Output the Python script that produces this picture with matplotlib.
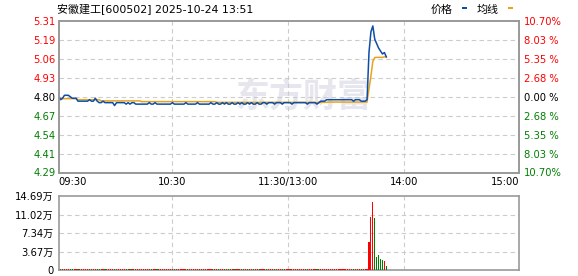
import matplotlib
matplotlib.use('Agg')
import matplotlib.pyplot as plt
from matplotlib.patches import Rectangle
import numpy as np

# ---------------- data ----------------
title_text = "安徽建工[600502] 2025-10-24 13:51"
prev_close = 4.80
max_pct = 10.70

price = [
    4.80, 4.78, 4.79, 4.81, 4.81, 4.81, 4.80, 4.79, 4.79, 4.79,
    4.77, 4.77, 4.77, 4.77, 4.77, 4.77, 4.78, 4.77, 4.77, 4.79,
    4.77, 4.76, 4.76, 4.77, 4.76, 4.76, 4.76, 4.76, 4.76, 4.74,
    4.76, 4.76, 4.76, 4.76, 4.76, 4.75, 4.76, 4.75, 4.76, 4.76,
    4.75, 4.75, 4.75, 4.75, 4.75, 4.75, 4.75, 4.76, 4.75, 4.75,
    4.76, 4.75, 4.75, 4.75, 4.75, 4.75, 4.75, 4.75, 4.75, 4.76,
    4.75, 4.75, 4.75, 4.75, 4.75, 4.75, 4.76, 4.75, 4.75, 4.75,
    4.75, 4.75, 4.76, 4.75, 4.75, 4.75, 4.75, 4.75, 4.75, 4.76,
    4.75, 4.75, 4.76, 4.75, 4.75, 4.76, 4.75, 4.76, 4.75, 4.75,
    4.76, 4.75, 4.75, 4.76, 4.75, 4.76, 4.75, 4.75, 4.76, 4.75,
    4.76, 4.75, 4.75, 4.76, 4.75, 4.75, 4.76, 4.76, 4.75, 4.76,
    4.76, 4.76, 4.75, 4.76, 4.76, 4.76, 4.75, 4.76, 4.76, 4.76,
    4.76, 4.75, 4.76, 4.76, 4.76, 4.76, 4.76, 4.76, 4.76, 4.75,
    4.76, 4.76, 4.76, 4.76, 4.75, 4.76, 4.77, 4.77, 4.77, 4.78,
    4.78, 4.78, 4.78, 4.78, 4.78, 4.78, 4.78, 4.78, 4.78, 4.78,
    4.78, 4.78, 4.78, 4.77, 4.78, 4.78, 4.78, 4.77, 4.77, 4.77,
    4.78, 5.10, 5.24, 5.28, 5.19, 5.16, 5.13, 5.11, 5.09, 5.10,
    5.07,
]

avg_price = [
    4.800, 4.787, 4.787, 4.787, 4.787, 4.787, 4.787, 4.787, 4.787, 4.787,
    4.780, 4.780, 4.780, 4.780, 4.780, 4.780, 4.780, 4.780, 4.780, 4.780,
    4.780, 4.780, 4.772, 4.772, 4.772, 4.772, 4.772, 4.772, 4.772, 4.772,
    4.772, 4.772, 4.772, 4.772, 4.772, 4.772, 4.772, 4.772, 4.772, 4.772,
    4.772, 4.772, 4.772, 4.767, 4.767, 4.767, 4.767, 4.767, 4.767, 4.767,
    4.767, 4.767, 4.767, 4.767, 4.767, 4.767, 4.767, 4.767, 4.767, 4.767,
    4.767, 4.767, 4.767, 4.767, 4.767, 4.767, 4.767, 4.767, 4.767, 4.767,
    4.767, 4.767, 4.767, 4.767, 4.767, 4.767, 4.767, 4.767, 4.767, 4.767,
    4.767, 4.767, 4.762, 4.762, 4.762, 4.762, 4.762, 4.762, 4.762, 4.762,
    4.762, 4.762, 4.762, 4.762, 4.762, 4.762, 4.762, 4.762, 4.762, 4.762,
    4.762, 4.762, 4.762, 4.762, 4.762, 4.762, 4.762, 4.762, 4.762, 4.762,
    4.762, 4.762, 4.762, 4.762, 4.762, 4.762, 4.762, 4.762, 4.762, 4.762,
    4.762, 4.762, 4.762, 4.762, 4.762, 4.762, 4.762, 4.762, 4.762, 4.762,
    4.762, 4.762, 4.762, 4.762, 4.762, 4.762, 4.762, 4.762, 4.762, 4.762,
    4.764, 4.764, 4.764, 4.764, 4.764, 4.764, 4.764, 4.764, 4.764, 4.764,
    4.764, 4.764, 4.764, 4.764, 4.764, 4.764, 4.764, 4.764, 4.764, 4.764,
    4.764, 4.850, 4.940, 5.040, 5.066, 5.067, 5.067, 5.067, 5.067, 5.070,
    5.072,
]

volume = [
    3200, 2600, 2100, 2400, 1900, 2200, 1800, 2300, 1700, 1900,
    2000, 1800, 1600, 1900, 1700, 2200, 1800, 1600, 2000, 1900,
    1700, 1800, 1600, 1700, 1900, 1500, 1800, 1600, 1700, 2100,
    1600, 1500, 1700, 1600, 1800, 1500, 1900, 1600, 1700, 1500,
    1800, 1600, 1500, 1700, 1600, 1500, 1800, 1700, 1600, 1500,
    1700, 1600, 1500, 1600, 1700, 1500, 1600, 1800, 1500, 1700,
    1600, 1500, 1700, 1600, 1500, 1600, 1800, 1500, 1600, 1700,
    1500, 1600, 1700, 1500, 1600, 1500, 1700, 1600, 1500, 1800,
    1600, 1700, 1500, 1600, 1700, 1500, 1800, 1600, 1500, 1700,
    1600, 1500, 1700, 1600, 1800, 1500, 1600, 1700, 1500, 1600,
    1700, 1500, 1600, 1800, 1500, 1600, 1700, 1500, 1600, 1700,
    1500, 1600, 1700, 1800, 1500, 1600, 1700, 1500, 1600, 1700,
    1900, 1600, 1500, 1700, 1600, 1500, 1700, 1600, 1500, 1800,
    1600, 1700, 1500, 1600, 1700, 1800, 1900, 2200, 1900, 2000,
    1800, 1700, 1600, 1800, 1700, 1600, 1700, 1800, 1600, 1700,
    1900, 1800, 1700, 1900, 2000, 1800, 1900, 2100, 2300, 2200,
    2500, 56000, 106000, 135000, 103000, 26000, 30000, 22000, 20000, 18500,
    8500,
]

n_slots = 240  # 09:31-11:30 and 13:01-15:00
time_tick_pos = [0, 59, 119, 179, 239]
time_tick_labels = ["09:30", "10:30", "11:30/13:00", "14:00", "15:00"]
price_labels = ["5.31", "5.19", "5.06", "4.93", "4.80", "4.67", "4.54", "4.41", "4.29"]
pct_labels = ["10.70%", "8.03 %", "5.35 %", "2.68 %", "0.00 %", "2.68 %", "5.35 %", "8.03 %", "10.70%"]
label_colors = ["#ff0000"] * 4 + ["#000000"] + ["#008000"] * 4
vol_max = 146900
vol_labels = ["0", "3.67万", "7.34万", "11.02万", "14.69万"]
legend_items = ["价格", "均线"]

# ---------------- style ----------------
W, H = 578, 276
DPI = 100
plt.rcParams['font.family'] = ['DejaVu Sans', 'Noto Sans CJK SC']
FS = 10 * 72 / DPI      # 10px
FS_T = 11 * 72 / DPI    # 11px
BLUE = '#0d4ea6'
ORANGE = '#e8a31c'
RED = '#ff0000'
GREEN = '#008000'
SPINE = '#999999'
GRID = '#cccccc'

fig = plt.figure(figsize=(W / DPI, H / DPI), dpi=DPI)
L, R = 58.7, 519.3
ax = fig.add_axes([L / W, 1 - 172.5 / H, (R - L) / W, (172.5 - 21) / H])
ax2 = fig.add_axes([L / W, 1 - 270 / H, (R - L) / W, (270 - 196) / H])

x = np.arange(len(price))
lo = prev_close * (1 - max_pct / 100)
hi = prev_close * (1 + max_pct / 100)
yt = np.linspace(hi, lo, 9)

# watermark
ax.text(0.53, 0.5, "东方财富", transform=ax.transAxes, ha='center', va='center',
        fontsize=34 * 72 / DPI, color='#e6e7ee', fontweight='bold',
        family=['Noto Sans CJK SC'], zorder=0)

ax.plot(x, avg_price, color=ORANGE, lw=1.1, zorder=3)
ax.plot(x, price, color=BLUE, lw=1.1, zorder=4)
ax.set_xlim(0, n_slots - 1)
ax.set_ylim(lo, hi)

dash = (0, (4, 3))
for v in yt[1:-1]:
    ax.axhline(v, color=GRID, lw=0.8, ls=dash, zorder=1)
for p in time_tick_pos[1:-1]:
    ax.axvline(p, color=GRID, lw=0.8, ls=dash, zorder=1)

ax.set_yticks(yt)
ax.set_yticklabels(price_labels, fontsize=FS)
for t, c in zip(ax.get_yticklabels(), label_colors):
    t.set_color(c)
ax.tick_params(axis='y', length=0, pad=2.0)

axr = ax.twinx()
axr.set_ylim(lo, hi)
axr.set_yticks(yt)
axr.set_yticklabels(pct_labels, fontsize=FS)
for t, c in zip(axr.get_yticklabels(), label_colors):
    t.set_color(c)
axr.tick_params(axis='y', length=0, pad=3.4)

ax.set_xticks(time_tick_pos)
ax.set_xticklabels(time_tick_labels, fontsize=FS)
ax.tick_params(axis='x', length=0, pad=3.2)
xl = ax.get_xticklabels()
xl[0].set_ha('left')
xl[-1].set_ha('right')

for a in (ax, axr, ax2):
    for s in a.spines.values():
        s.set_color(SPINE)
        s.set_linewidth(1.2)

# volume
colors = [RED] + [RED if price[i] >= price[i - 1] else GREEN for i in range(1, len(price))]
ax2.bar(x, volume, width=0.6, color=colors, linewidth=0, zorder=3)
ax2.set_xlim(0, n_slots - 1)
ax2.set_ylim(0, vol_max)
vt = np.linspace(0, vol_max, 5)
for v in vt[1:-1]:
    ax2.axhline(v, color=GRID, lw=0.8, ls=dash, zorder=1)
for p in time_tick_pos[1:-1]:
    ax2.axvline(p, color=GRID, lw=0.8, ls=dash, zorder=1)
ax2.set_yticks(vt)
ax2.set_yticklabels(vol_labels, fontsize=FS)
ax2.tick_params(axis='y', length=0, pad=3.6)
ax2.set_xticks([])

# title and legend
fig.text(57 / W, 1 - 10 / H, title_text, fontsize=FS_T, ha='left', va='center')
fig.text(431 / W, 1 - 10 / H, legend_items[0], fontsize=FS_T, ha='left', va='center')
fig.text(477 / W, 1 - 10 / H, legend_items[1], fontsize=FS_T, ha='left', va='center')
fig.add_artist(Rectangle((461.7 / W, 1 - 9.3 / H), 5 / W, 2.6 / H,
                         transform=fig.transFigure, color=BLUE, lw=0))
fig.add_artist(Rectangle((508 / W, 1 - 9.3 / H), 5 / W, 2.6 / H,
                         transform=fig.transFigure, color=ORANGE, lw=0))

fig.savefig('out.png', dpi=DPI)
